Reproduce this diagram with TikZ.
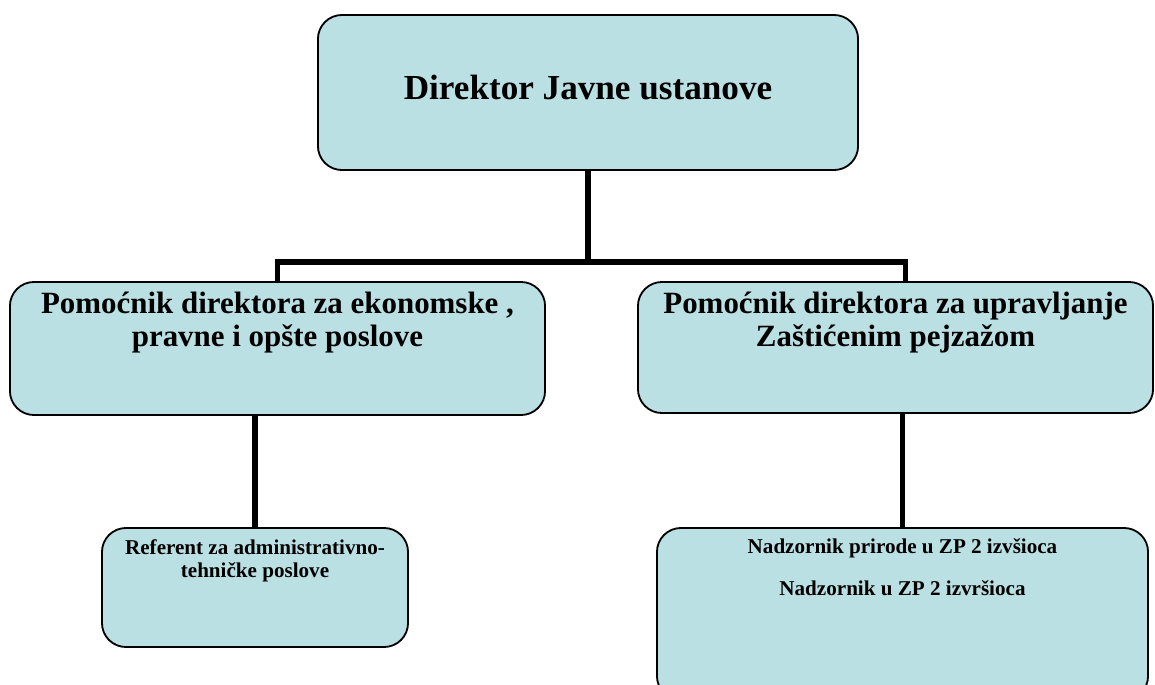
\documentclass[tikz,border=0pt]{standalone}
\usepackage{fontspec}
\setmainfont{Liberation Serif}
\definecolor{boxfill}{RGB}{187,224,227}
\tikzset{
  orgbox/.style={draw=black, line width=1.3pt, fill=boxfill, rounded corners=0.6cm, inner sep=0pt, font=\bfseries},
  link/.style={draw=black, line width=3.6pt}
}
\begin{document}
\begin{tikzpicture}[x=0.025cm, y=-0.025cm]
\useasboundingbox (0,0) rectangle (1155,684);
\node[orgbox] (director) at (588,92.5) {\parbox[c][3.875cm][t]{13.5cm}{\centering\fontsize{25}{27}\selectfont\rule{0pt}{2.12cm}Direktor Javne ustanove}};
\node[orgbox] (ekon) at (277.5,348.5) {\parbox[c][3.325cm][t]{13.375cm}{\centering\fontsize{22}{23}\selectfont\rule{0pt}{0.8cm}Pomoćnik direktora za ekonomske ,\\ pravne i opšte poslove}};
\node[orgbox] (upravlj) at (895.5,347.5) {\parbox[c][3.275cm][t]{12.875cm}{\centering\fontsize{22}{23}\selectfont\rule{0pt}{0.8cm}Pomoćnik direktora za upravljanje\\ Zaštićenim pejzažom}};
\node[orgbox] (referent) at (255,587.5) {\parbox[c][2.975cm][t]{7.65cm}{\centering\fontsize{15}{16.4}\selectfont\rule{0pt}{0.65cm}Referent za administrativno-\\ tehničke poslove}};
\node[orgbox] (nadzornik) at (902.5,614) {\parbox[c][4.3cm][t]{12.275cm}{\centering\fontsize{15}{30}\selectfont\rule{0pt}{0.63cm}Nadzornik prirode u ZP 2 izvšioca\\ Nadzornik u ZP 2 izvršioca}};
% connectors
\coordinate (bus) at (588,262);
\draw[link] (director.south) -- (bus);
\draw[link] (bus) -| (ekon.north);
\draw[link] (bus) -| ([xshift=0.26cm]upravlj.north);
\draw[link] (referent.north |- ekon.south) -- (referent.north);
\draw[link] (nadzornik.north |- upravlj.south) -- (nadzornik.north);
\end{tikzpicture}
\end{document}
